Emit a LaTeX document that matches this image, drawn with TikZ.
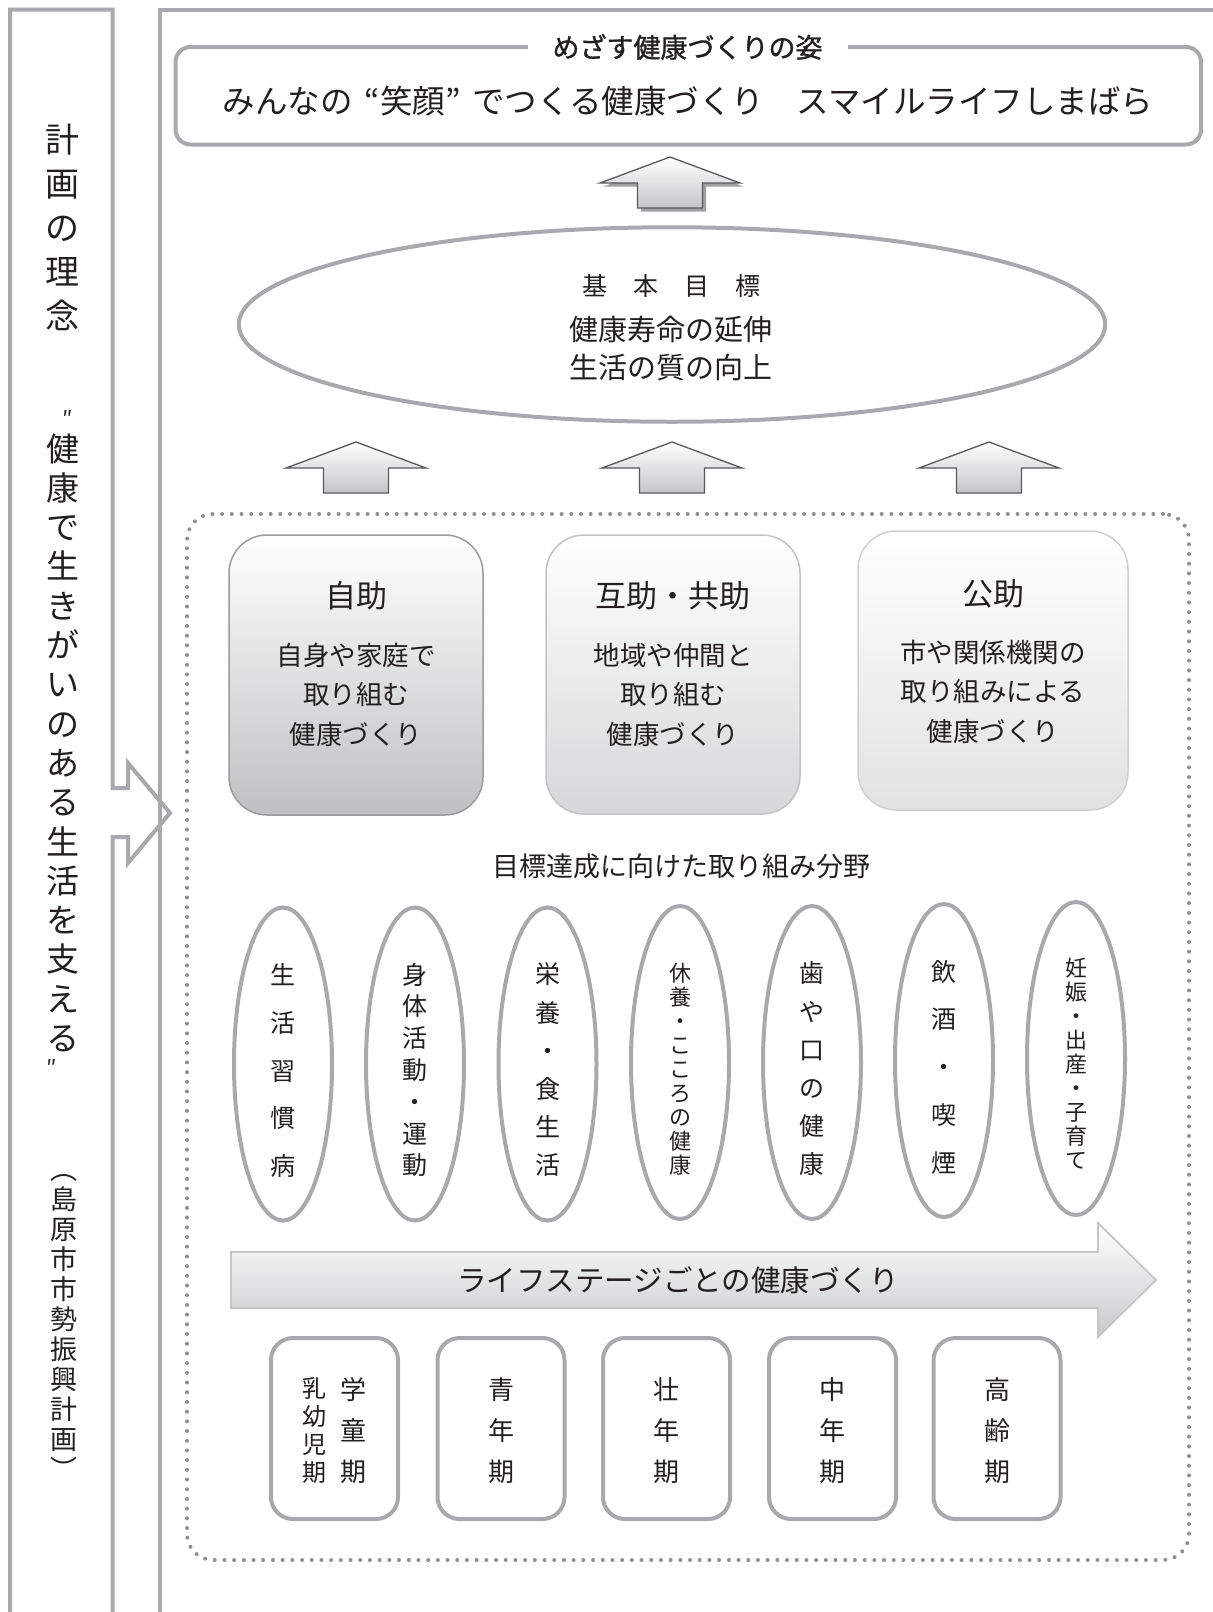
\documentclass[tikz,border=0pt]{standalone}
\usepackage{fontspec}
\setmainfont{Noto Sans CJK JP}
\newfontfamily\jpbold[FakeBold=1.2]{Noto Sans CJK JP}
\usetikzlibrary{shapes.geometric}
\definecolor{lg}{HTML}{A8A9AC}
\definecolor{dg}{HTML}{58595B}
\definecolor{tx}{HTML}{231F20}
\definecolor{dotc}{HTML}{8E8F92}
\definecolor{shad}{HTML}{9FA0A2}
\definecolor{arrbot}{HTML}{C4C5C7}
\definecolor{lsborder}{HTML}{C4C5C7}
\definecolor{lsbot}{HTML}{C8C9CB}
\definecolor{hbAd}{HTML}{9A9B9D}
\definecolor{hbAf}{HTML}{BFC0C2}
\definecolor{hbBd}{HTML}{C2C3C5}
\definecolor{hbBf}{HTML}{D6D7D8}
\definecolor{hbCd}{HTML}{CFD0D2}
\definecolor{hbCf}{HTML}{E2E2E3}
\begin{document}
\begin{tikzpicture}[x=1pt,y=1pt,
  panel/.style={draw=lg, line width=4pt},
  txt/.style={inner sep=0pt, text=tx},
  fs/.style 2 args={font=\fontsize{#1}{#2}\selectfont},
  vcol/.style 2 args={inner sep=0pt, text=tx, align=center, font=\fontsize{#1}{#2}\selectfont},
  upar/.style={draw=dg, line width=1.3pt, top color=white, bottom color=arrbot},
  helpbox/.style={rectangle, rounded corners=38pt, line width=1.5pt, inner sep=0pt},
  fieldell/.style={ellipse, draw=lg, line width=4pt, minimum width=98pt, minimum height=313pt, inner sep=0pt},
  stagebox/.style={rectangle, draw=lg, line width=4pt, rounded corners=22pt, minimum width=127pt, minimum height=181pt, inner sep=0pt}
]
\fill[white] (0,0) rectangle (1213,-1612);
\useasboundingbox (0,0) rectangle (1213,-1612);

% left panel with arrow
\draw[panel, line join=miter] (10,-1620) -- (10,-9.5) -- (112.5,-9.5) -- (112.5,-788) -- (128,-788) -- (128,-763)
  -- (170,-813) -- (128,-863) -- (128,-837) -- (112.5,-837) -- (112.5,-1620);
% main panel
\draw[panel] (159.5,-1620) -- (159.5,-9.5) -- (1220,-9.5);

% left panel texts
\node[vcol={34}{44.2}] (rinen) at (62,-227.5) {計\\画\\の\\理\\念};
\node[vcol={33}{39.3}] (motto) at (62.5,-742.75) {健\\康\\で\\生\\き\\が\\い\\の\\あ\\る\\生\\活\\を\\支\\え\\る};
\node[txt, fs={22}{22}] (qopen) at (68,-419) {″};
\node[txt, fs={22}{22}] (qclose) at (52,-1068) {″};
\node[vcol={27}{30}] (source) at (64,-1327) {︵\\島\\原\\市\\市\\勢\\振\\興\\計\\画\\︶};

% vision box
\node[rectangle, draw=lg, line width=4pt, rounded corners=15pt, minimum width=1025.5pt, minimum height=97.5pt, inner sep=0pt] (vision) at (688.25,-95.75) {};
\node[fill=white, inner xsep=25pt, inner ysep=5pt, text=tx, font=\jpbold\fontsize{27}{27}\selectfont] (visiontitle) at (687.5,-47) {めざす健康づくりの姿};
\node[txt, fs={32.5}{32.5}] (visiontext) at (688,-101.5) {みんなの\hspace{12pt}“笑顔”\hspace{12pt}でつくる健康づくり　スマイルライフしまばら};

% top arrow with shadow
\fill[shad, shift={(673.5,-160.5)}] (0,0) -- (70,-26) -- (32.5,-26) -- (32.5,-51) -- (-32.5,-51) -- (-32.5,-26) -- (-70,-26) -- cycle;
\path[upar, shift={(670,-157)}] (0,0) -- (70,-26) -- (32.5,-26) -- (32.5,-51) -- (-32.5,-51) -- (-32.5,-26) -- (-70,-26) -- cycle;

% goal ellipse
\node[ellipse, draw=lg, line width=4pt, minimum width=866.5pt, minimum height=194.5pt, inner sep=0pt] (goal) at (672,-324.5) {};
\node[txt, fs={25}{25}] (goaltitle) at (671,-286) {基\hspace{26pt}本\hspace{26pt}目\hspace{26pt}標};
\node[txt, fs={29}{29}] (goal1) at (671,-329.5) {健康寿命の延伸};
\node[txt, fs={29}{29}] (goal2) at (671,-367.5) {生活の質の向上};

% three arrows
\path[upar, shift={(356,-442)}] (0,0) -- (70,-26) -- (32.5,-26) -- (32.5,-51) -- (-32.5,-51) -- (-32.5,-26) -- (-70,-26) -- cycle;
\path[upar, shift={(672,-442)}] (0,0) -- (70,-26) -- (32.5,-26) -- (32.5,-51) -- (-32.5,-51) -- (-32.5,-26) -- (-70,-26) -- cycle;
\path[upar, shift={(989,-442)}] (0,0) -- (70,-26) -- (32.5,-26) -- (32.5,-51) -- (-32.5,-51) -- (-32.5,-26) -- (-70,-26) -- cycle;

% dotted field
\node[rectangle, draw=dotc, line width=4pt, dash pattern=on 0pt off 9.7pt, line cap=round, rounded corners=26pt, minimum width=1002pt, minimum height=1046pt, inner sep=0pt] (field) at (688,-1037) {};

% help boxes
\node[helpbox, draw=hbAd, top color=white, bottom color=hbAf, minimum width=254pt, minimum height=280pt] (selfhelp) at (356,-675) {};
\node[helpbox, draw=hbBd, top color=white, bottom color=hbBf, minimum width=254pt, minimum height=279pt] (mutualhelp) at (673,-674.5) {};
\node[helpbox, draw=hbCd, top color=white, bottom color=hbCf, minimum width=270pt, minimum height=279pt] (publichelp) at (993,-670.5) {};

\node[txt, fs={31}{31}] (selfhelp-t) at (356,-596) {自助};
\node[vcol={26.5}{39.5}] (selfhelp-d) at (356,-694.5) {自身や家庭で\\取り組む\\健康づくり};
\node[txt, fs={31}{31}] (mutual-t) at (673,-596) {互助・共助};
\node[vcol={26.5}{39.5}] (mutual-d) at (673,-694.5) {地域や仲間と\\取り組む\\健康づくり};
\node[txt, fs={31}{31}] (public-t) at (993,-594) {公助};
\node[vcol={26.5}{39.5}] (public-d) at (993,-691.5) {市や関係機関の\\取り組みによる\\健康づくり};

\node[txt, fs={27}{27}] (fieldslabel) at (681,-866) {目標達成に向けた取り組み分野};

% field ellipses
\node[fieldell] (e1) at (283,-1064) {};
\node[fieldell] (e2) at (415,-1064) {};
\node[fieldell] (e3) at (547.5,-1064) {};
\node[fieldell] (e4) at (680,-1062.5) {};
\node[fieldell] (e5) at (812,-1062.5) {};
\node[fieldell] (e6) at (944,-1060.5) {};
\node[fieldell] (e7) at (1076,-1058.5) {};

\node[vcol={25}{47.75}] (t1) at (283,-1070.5) {生\\活\\習\\慣\\病};
\node[vcol={25}{31.8}] (t2) at (415,-1070) {身\\体\\活\\動\\・\\運\\動};
\node[vcol={25}{38.2}] (t3) at (547.5,-1070) {栄\\養\\・\\食\\生\\活};
\node[vcol={22}{24}] (t4) at (680,-1069) {休\\養\\・\\こ\\こ\\ろ\\の\\健\\康};
\node[vcol={25}{38.2}] (t5) at (812,-1069) {歯\\や\\口\\の\\健\\康};
\node[vcol={25}{47.75}] (t6) at (944,-1067) {飲\\酒\\・\\喫\\煙};
\node[vcol={22}{24}] (t7) at (1076,-1064) {妊\\娠\\・\\出\\産\\・\\子\\育\\て};

% life stage arrow
\path[draw=lsborder, line width=1.8pt, top color=white, bottom color=lsbot]
  (231,-1252) -- (1098,-1252) -- (1098,-1223) -- (1156,-1280) -- (1098,-1337) -- (1098,-1308) -- (231,-1308) -- cycle;
\node[txt, fs={29.5}{29.5}] (lifestage) at (678,-1280) {ライフステージごとの健康づくり};

% life stage boxes
\node[stagebox] (s1) at (334.5,-1428.5) {};
\node[stagebox] (s2) at (501,-1428.5) {};
\node[stagebox] (s3) at (666.5,-1428.5) {};
\node[stagebox] (s4) at (832.5,-1428.5) {};
\node[stagebox] (s5) at (997,-1428.5) {};

\node[vcol={24}{28}] (s1a) at (314,-1430) {乳\\幼\\児\\期};
\node[vcol={26}{41}] (s1b) at (353,-1431) {学\\童\\期};
\node[vcol={26}{41}] (s2t) at (501,-1431) {青\\年\\期};
\node[vcol={26}{41}] (s3t) at (666.5,-1431) {壮\\年\\期};
\node[vcol={26}{41}] (s4t) at (832.5,-1431) {中\\年\\期};
\node[vcol={26}{41}] (s5t) at (997,-1431) {高\\齢\\期};
\end{tikzpicture}
\end{document}
